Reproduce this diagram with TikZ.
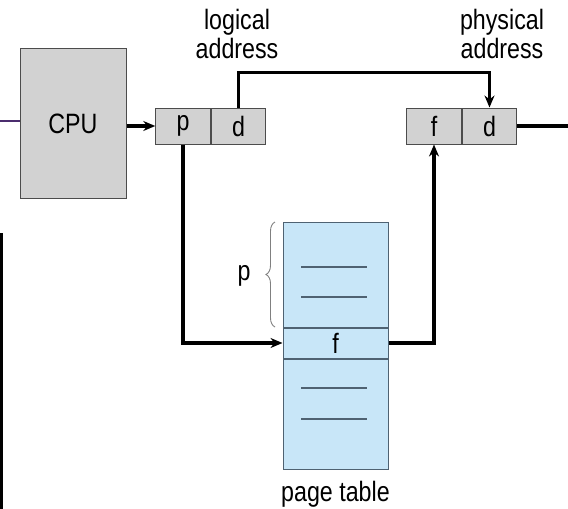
\documentclass[tikz,border=0pt]{standalone}
\usepackage{fontspec}
\setmainfont{Liberation Sans}[FakeStretch=0.83]
\usetikzlibrary{positioning,decorations.pathreplacing,arrows.meta}

\definecolor{boxgray}{HTML}{D2D2D2}
\definecolor{tableblue}{HTML}{C8E6F8}
\definecolor{slate}{HTML}{4F6272}
\definecolor{slidepurple}{HTML}{4B2D6E}

\tikzset{
  cpubox/.style={draw=black!70, line width=1pt, fill=boxgray, minimum width=106pt, minimum height=150pt, inner sep=0pt},
  cell/.style={draw=black!70, line width=1pt, fill=boxgray, minimum width=54.5pt, minimum height=36pt, inner sep=0pt},
  tbl/.style={draw=slate, line width=1pt, fill=tableblue, minimum width=105pt, inner sep=0pt},
  conn/.style={line width=3.2pt, -{Stealth[length=12pt,width=10pt]}},
  wire/.style={line width=3.2pt},
  caption/.style={align=center, font=\fontsize{28}{29}\selectfont}
}

\begin{document}
\begin{tikzpicture}[x=1pt, y=-1pt, font=\fontsize{28}{29}\selectfont]
    \useasboundingbox (0,0) rectangle (568,509);

    % slide edges
    \draw [slidepurple, line width=1.5pt] (0,121) -- (20,121);
    \fill [black] (0,233) rectangle (3,509);

    % cpu and the two addresses
    \node (cpu) [cpubox] at (73,123.5) {CPU};
    \node (lp) [cell] at (183,126) {p};
    \node (ld) [cell, right=0pt of lp] {d};
    \node (pf) [cell] at (434,126) {f};
    \node (pd) [cell, right=0pt of pf] {d};

    \node (logical) [caption] at (237,34) {logical\\address};
    \node (physical) [caption] at (502,34) {physical\\address};

    % page table
    \node (top) [tbl, minimum height=105pt] at (335.5,274.5) {};
    \node (frow) [tbl, minimum height=30pt, below=0pt of top] {f};
    \node (bot) [tbl, minimum height=110pt, below=0pt of frow] {};
    \foreach \y in {267,297,388,419}
        \draw [slate, line width=1.6pt] (301,\y) -- (367,\y);
    \node (ptlabel) at (335.5,494) {page table};

    % brace over the first p entries
    \draw [gray, line width=0.9pt, decorate, decoration={brace, amplitude=9pt}]
        (275,327) -- (275,222);
    \node (pidx) at (244,276) {p};

    % Arrows
    \coordinate (out) at (568,126);
    \draw [conn] (cpu.east |- lp.west) -- (lp.west);
    \draw [conn] (ld.north) -- ++(0,-35) -| (pd.north);
    \draw [conn] (lp.south) |- (frow.west);
    \draw [conn] (frow.east) -| (pf.south);
    \draw [wire] (pd.east) -- (out);
\end{tikzpicture}
\end{document}
